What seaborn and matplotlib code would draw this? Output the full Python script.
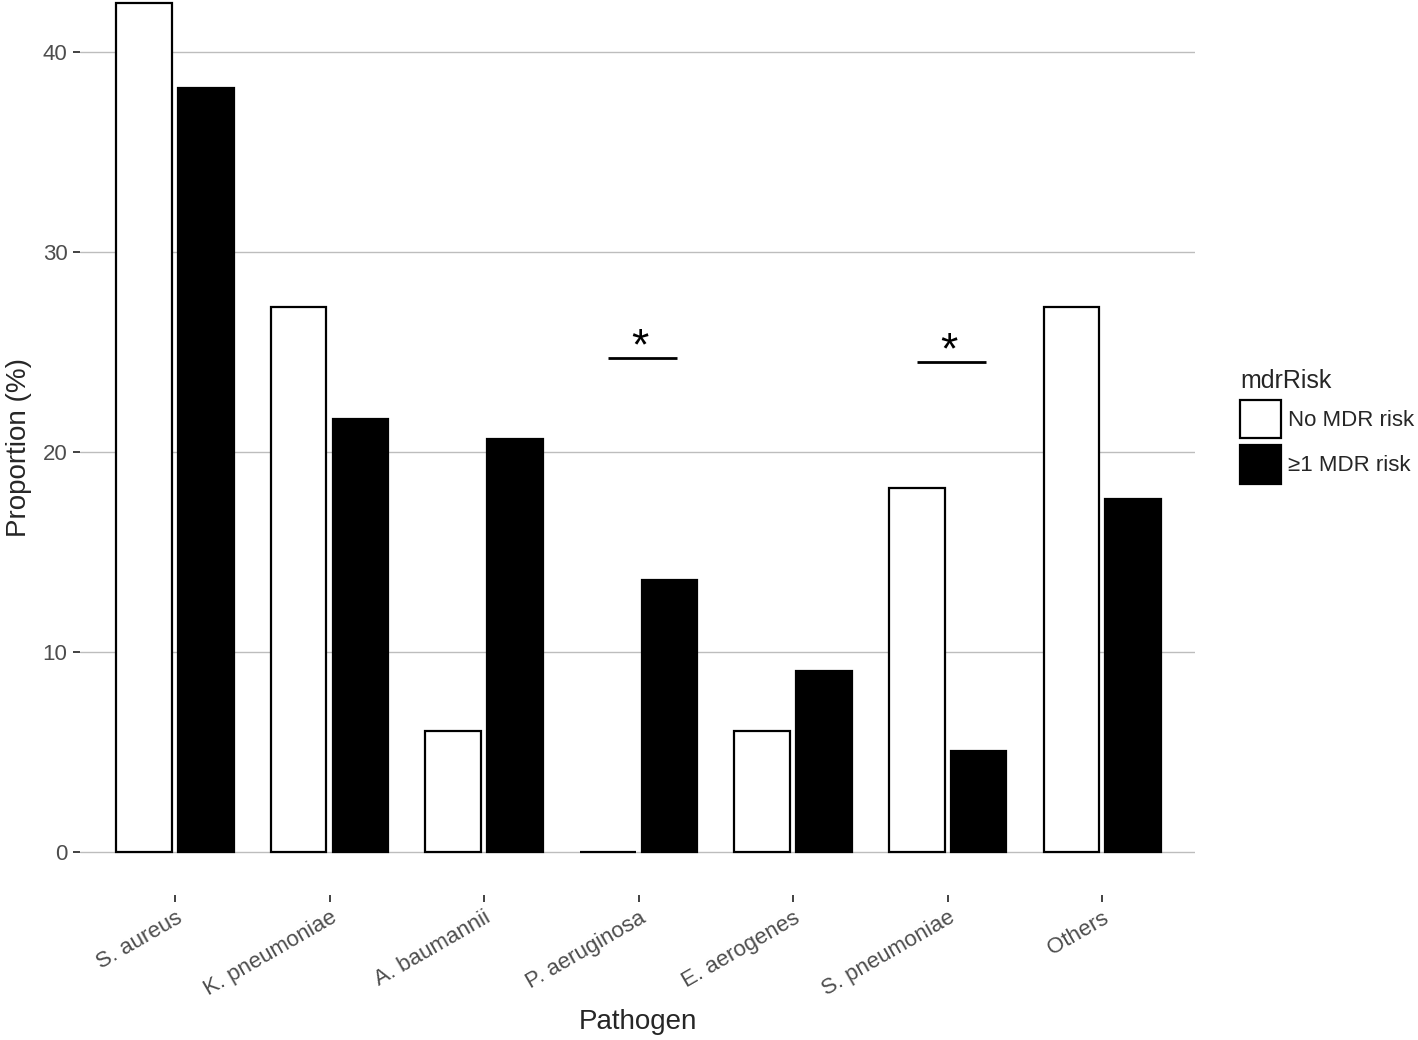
import matplotlib
matplotlib.use('Agg')
import matplotlib.pyplot as plt
import seaborn as sns
import pandas as pd

# values
pathogens = ['S. aureus', 'K. pneumoniae', 'A. baumannii', 'P. aeruginosa',
             'E. aerogenes', 'S. pneumoniae', 'Others']
no_mdr = [42.45, 27.25, 6.05, 0.0, 6.05, 18.2, 27.25]
mdr = [38.2, 21.65, 20.65, 13.6, 9.05, 5.05, 17.65]
risk_levels = ['No MDR risk', '\u22651 MDR risk']

# significance markers
sig_pathogens = ['P. aeruginosa', 'S. pneumoniae']
sig_heights = [24.7, 24.5]

df = pd.DataFrame({
    'Pathogen': pathogens * 2,
    'mdrRisk': [risk_levels[0]] * len(pathogens) + [risk_levels[1]] * len(pathogens),
    'Proportion': no_mdr + mdr,
})

sns.set_style('white')
plt.rcParams['font.family'] = ['Liberation Sans', 'DejaVu Sans']

fig = plt.figure(figsize=(14.18, 10.4), dpi=100)
ax = fig.add_axes([80 / 1418, 1 - 895 / 1040, (1195 - 80) / 1418, 895 / 1040])

sns.barplot(data=df, x='Pathogen', y='Proportion', hue='mdrRisk',
            hue_order=risk_levels, order=pathogens,
            palette={risk_levels[0]: 'white', risk_levels[1]: 'black'},
            edgecolor='black', linewidth=1.6, gap=0.1, errorbar=None,
            zorder=3, ax=ax)

ax.set_ylim(-2.15, 42.6)
ax.set_xlim(-0.615, 6.6)
ax.set_yticks([0, 10, 20, 30, 40])
ax.yaxis.grid(True, color='#BDBDBD', linewidth=1.0, zorder=0)
ax.xaxis.grid(False)
for s in ax.spines.values():
    s.set_visible(False)

ax.tick_params(axis='y', length=5, width=1.3, color='#333333', labelsize=16,
               labelcolor='#4D4D4D', left=True, pad=4)
ax.tick_params(axis='x', length=5, width=1.3, color='#333333', labelsize=16,
               labelcolor='#4D4D4D', bottom=True, pad=4)
for lab in ax.get_xticklabels():
    lab.set_rotation(30)
    lab.set_ha('right')
    lab.set_rotation_mode('anchor')

ax.set_xlabel('Pathogen', fontsize=20, labelpad=6)
ax.set_ylabel('Proportion (%)', fontsize=20, labelpad=8)

for name, h in zip(sig_pathogens, sig_heights):
    i = pathogens.index(name)
    ax.plot([i - 0.2, i + 0.25], [h, h], color='black', lw=2, zorder=4,
            solid_capstyle='butt')
    ax.text(i + 0.01, h - 0.05, '*', ha='center', va='baseline', fontsize=32,
            color='black')

leg = ax.get_legend()
handles = leg.legend_handles
leg.remove()
ax.legend(handles, risk_levels, title='mdrRisk', loc='upper left',
          bbox_to_anchor=(1231 / 1418, 1 - 360 / 1040),
          bbox_transform=fig.transFigure, frameon=False, fontsize=16,
          title_fontsize=18, handlelength=1.85, handleheight=2.3,
          handletextpad=0.3, labelspacing=0.3, borderaxespad=0,
          alignment='left')

fig.savefig('out.png', dpi=100)
